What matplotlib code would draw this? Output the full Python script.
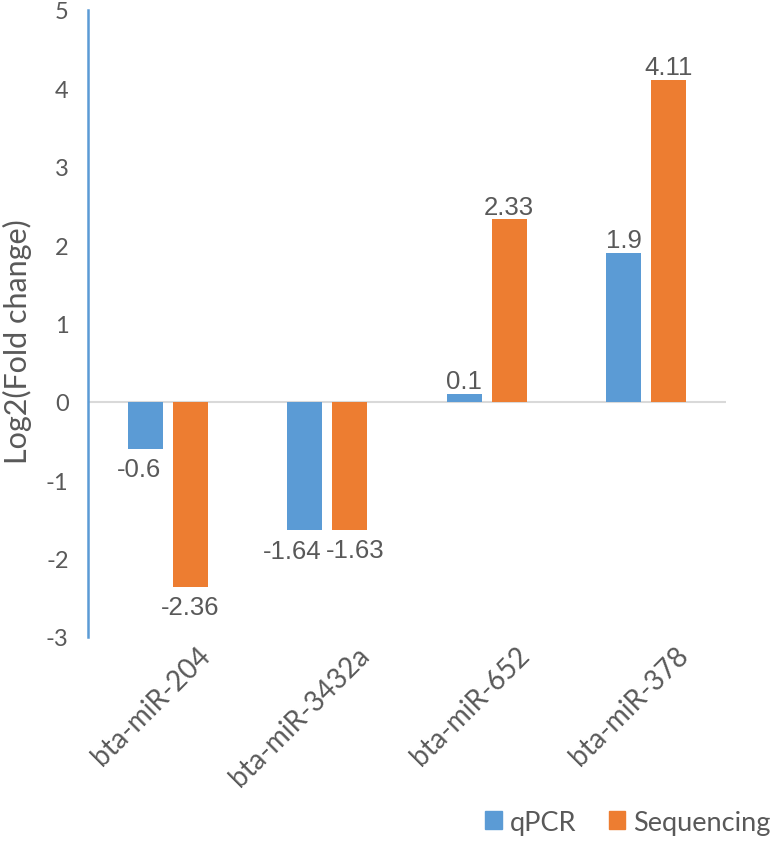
import numpy as np
import matplotlib.pyplot as plt
from matplotlib.patches import Patch
from matplotlib.transforms import offset_copy

mirnas = ["bta-miR-204", "bta-miR-3432a", "bta-miR-652", "bta-miR-378"]
qpcr = [-0.6, -1.64, 0.1, 1.9]
sequencing = [-2.36, -1.63, 2.33, 4.11]
yticks = [-3, -2, -1, 0, 1, 2, 3, 4, 5]

# small sideways nudges (px) so the two -1.6 labels don't collide
qpcr_shift = [-6, -13, 0, 0]
seq_shift = [0, 5, 0, 0]

blue = "#5B9BD5"
orange = "#ED7D31"
grey = "#595959"
tick_font = "Lato"
num_font = "Liberation Sans"

fig = plt.figure(figsize=(7.74, 8.45), dpi=100)
ax = fig.add_axes([0.1137, 0.245, 0.8243, 0.742])

x = np.arange(len(mirnas))
w = 0.222
off = 0.141
b1 = ax.bar(x - off, qpcr, w, color=blue, zorder=3)
b2 = ax.bar(x + off, sequencing, w, color=orange, zorder=3)

# data labels
for bars, vals, shifts in [(b1, qpcr, qpcr_shift), (b2, sequencing, seq_shift)]:
    for rect, v, dx in zip(bars, vals, shifts):
        cx = rect.get_x() + rect.get_width() / 2
        if v >= 0:
            ax.annotate(f"{v:g}", (cx, v), xytext=(dx * 0.72, 0.5), textcoords="offset points",
                        ha="center", va="bottom", fontsize=18.5, color=grey, family=num_font)
        else:
            ax.annotate(f"{v:g}", (cx, v), xytext=(dx * 0.72, -6), textcoords="offset points",
                        ha="center", va="top", fontsize=18.5, color=grey, family=num_font)

ax.axhline(0, color="#D9D9D9", lw=1.5, zorder=2)
ax.set_xlim(-0.5, 3.5)
ax.set_ylim(-3, 5)
ax.set_yticks(yticks)
ax.set_yticklabels([str(t) for t in yticks], fontsize=17, color=grey, family=tick_font)
ax.tick_params(axis="y", length=0, pad=14)
ax.tick_params(axis="x", length=0)
ax.set_xticks([])

for s in ["top", "right", "bottom"]:
    ax.spines[s].set_visible(False)
ax.spines["left"].set_color(blue)
ax.spines["left"].set_linewidth(1.8)

ax.set_ylabel("Log2(Fold change)", fontsize=22, color=grey, family=tick_font)
ax.yaxis.set_label_coords(-0.088, 0.472)

# rotated category labels below the plot area
for xi, name in zip(x, mirnas):
    tr = offset_copy(ax.get_xaxis_transform(), fig=fig, x=38, y=-14, units="dots")
    ax.text(xi, 0, name, transform=tr, rotation=45, rotation_mode="anchor",
            ha="right", va="center", fontsize=20, color=grey, family=tick_font)

handles = [Patch(color=blue, label="qPCR"), Patch(color=orange, label="Sequencing")]
fig.legend(handles=handles, loc="center right", bbox_to_anchor=(1.027, 0.026), ncol=2,
           frameon=False, handlelength=0.6, handleheight=0.6, handletextpad=0.3,
           columnspacing=1.2, prop={"family": tick_font, "size": 19.5},
           labelcolor=grey)

fig.savefig("out.png", dpi=100)
